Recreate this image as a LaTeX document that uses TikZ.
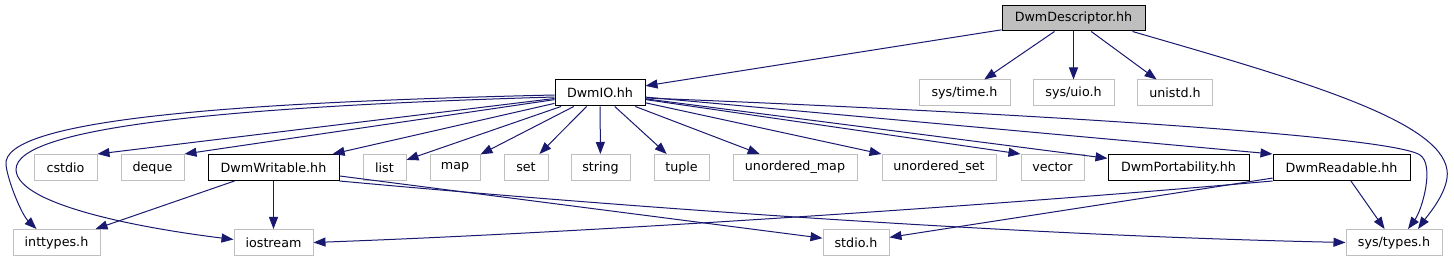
\documentclass[tikz,border=0pt]{standalone}
\usepackage{fontspec}
\setmainfont{DejaVu Sans}
\usetikzlibrary{arrows.meta, calc}
\definecolor{edgeblue}{HTML}{191970}
\definecolor{boxgray}{HTML}{BFBFBF}

\begin{document}
\begin{tikzpicture}[x=1pt, y=-1pt,
    every node/.style={font=\fontsize{12.7}{15}\selectfont, inner sep=0pt, minimum height=26pt},
    ownfile/.style={draw=black, fill=white, line width=1pt},
    sysfile/.style={draw=boxgray, fill=white, line width=1pt},
    dep/.style={edgeblue, line width=1pt, -{Triangle[length=12pt, width=9pt]}}]
        \fill[white] (0,0) rectangle (1454,261);
        \useasboundingbox (0,0) rectangle (1454,261);
        % top file
        \node[draw=black, fill=boxgray, line width=1pt, minimum width=143pt, minimum height=25pt] (desc) at (1073.5,18.5) {DwmDescriptor.hh};
        % first level
        \node[ownfile, minimum width=90pt] (io) at (600,93) {DwmIO.hh};
        \node[sysfile, minimum width=91pt] (time) at (964.5,93) {sys/time.h};
        \node[sysfile, minimum width=81pt] (uio) at (1073.5,93) {sys/uio.h};
        \node[sysfile, minimum width=75pt] (unistd) at (1175,93) {unistd.h};
        % second level
        \node[sysfile, minimum width=63pt] (cstdio) at (65.5,167.5) {cstdio};
        \node[sysfile, minimum width=63pt] (deque) at (152.5,167.5) {deque};
        \node[ownfile, minimum width=131pt] (writable) at (273.5,167.5) {DwmWritable.hh};
        \node[sysfile, minimum width=43pt] (list) at (384.5,167.5) {list};
        \node[sysfile, minimum width=50pt] (map) at (455,167.5) {map};
        \node[sysfile, minimum width=44pt] (set) at (526,167.5) {set};
        \node[sysfile, minimum width=59pt] (string) at (600.5,167.5) {string};
        \node[sysfile, minimum width=55pt] (tuple) at (681.5,167.5) {tuple};
        \node[sysfile, minimum width=124pt] (umap) at (795,167.5) {unordered\_map};
        \node[sysfile, minimum width=114pt] (uset) at (939,167.5) {unordered\_set};
        \node[sysfile, minimum width=63pt] (vector) at (1052.5,167.5) {vector};
        \node[ownfile, minimum width=141pt] (port) at (1178.5,167.5) {DwmPortability.hh};
        \node[ownfile, minimum width=137pt] (readable) at (1341.5,167.5) {DwmReadable.hh};
        % third level
        \node[sysfile, minimum width=87pt] (inttypes) at (56.5,242.5) {inttypes.h};
        \node[sysfile, minimum width=79pt] (iostream) at (273.5,242.5) {iostream};
        \node[sysfile, minimum width=66pt] (stdio) at (856,242.5) {stdio.h};
        \node[sysfile, minimum width=96pt] (types) at (1394,242.5) {sys/types.h};
        % DwmDescriptor.hh includes
        \draw[dep] (desc) -- (io);
        \draw[dep] (desc) -- (time);
        \draw[dep] (desc) -- (uio);
        \draw[dep] (desc) -- (unistd);
        \draw[dep] ($(desc.south east)+(-13,0)$) .. controls (1300,80) and (1440,120) .. (1447,170)
            .. controls (1450,190) and (1428,215) .. ([xshift=24pt]types.north);
        % DwmIO.hh includes
        \draw[dep] ($(io.west)+(0,2)$) .. controls (250,102) and (0,118) .. (6,165)
            .. controls (8,182) and (22,215) .. ([xshift=-20pt]inttypes.north);
        \draw[dep] ($(io.west)+(0,4)$) .. controls (250,106) and (14,125) .. (16,170)
            .. controls (18,205) and (140,228) .. ([yshift=3pt]iostream.west);
        \draw[dep] (io) -- (cstdio.north east);
        \draw[dep] (io) -- (deque.north east);
        \draw[dep] (io) -- (writable);
        \draw[dep] (io) -- (list);
        \draw[dep] (io) -- (map);
        \draw[dep] (io) -- (set);
        \draw[dep] (io) -- (string);
        \draw[dep] (io) -- (tuple);
        \draw[dep] (io) -- (umap);
        \draw[dep] (io) -- (uset.north west);
        \draw[dep] (io) -- (vector.north west);
        \draw[dep] (io) -- (port);
        \draw[dep] (io) -- (readable.north west);
        \draw[dep] ($(io.east)+(0,5)$) .. controls (1000,112) and (1390,135) .. (1420,155)
            .. controls (1435,165) and (1422,210) .. ([xshift=14pt]types.north);
        % DwmWritable.hh includes
        \draw[dep] (writable) -- (inttypes);
        \draw[dep] (writable) -- (iostream);
        \draw[dep] (writable) -- (stdio);
        \draw[dep] (writable.south east) .. controls (600,205) and (1000,235) .. (types.west);
        % DwmReadable.hh includes
        \draw[dep] (readable.south west) .. controls (1000,205) and (600,232) .. (iostream.east);
        \draw[dep] (readable) -- (stdio);
        \draw[dep] (readable) -- (types);
\end{tikzpicture}
\end{document}
